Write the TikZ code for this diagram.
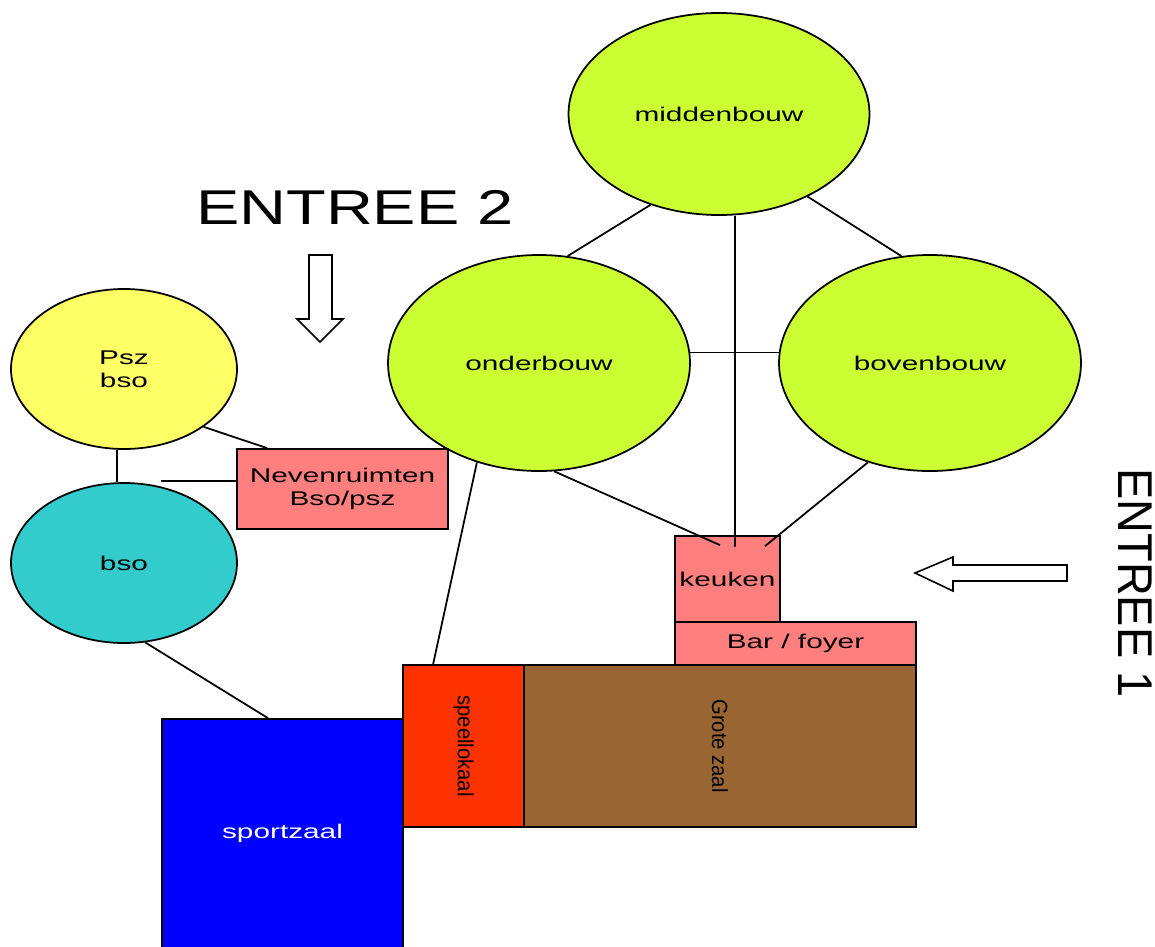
\documentclass[tikz,border=0pt]{standalone}
\usepackage{fontspec}
\setmainfont{Liberation Sans}
\usetikzlibrary{shapes.geometric,calc}
\newcommand{\px}{0.02cm}
\newcommand{\breed}[1]{\scalebox{1.5}[1]{#1}}
\definecolor{groen}{HTML}{CCFF33}
\definecolor{geel}{HTML}{FFFF66}
\definecolor{turkoois}{HTML}{33CCCC}
\definecolor{zalm}{HTML}{FF7F7F}
\definecolor{oranjerood}{HTML}{FF3300}
\definecolor{bruin}{HTML}{996633}
\definecolor{blauw}{HTML}{0000FF}

\begin{document}
\begin{tikzpicture}[x=\px, y=-\px,
    ell/.style={draw, ellipse, line width=1pt, inner sep=0pt, align=center, font=\fontsize{11.3}{13}\selectfont},
    rect/.style={draw, rectangle, line width=1pt, inner sep=0pt, align=center, font=\fontsize{11.3}{13}\selectfont},
    lijn/.style={line width=1pt},
    pijl/.style={draw, line width=0.9pt, fill=white}]
    \useasboundingbox (0,0) rectangle (1155,946);
    \clip (0,0) rectangle (1155,946);

    % Clusters
    \node[ell, fill=groen, minimum width=301*\px, minimum height=202*\px] (middenbouw) at (719,114) {\breed{middenbouw}};
    \node[ell, fill=groen, minimum width=302*\px, minimum height=216*\px] (onderbouw) at (539,363) {\breed{onderbouw}};
    \node[ell, fill=groen, minimum width=302*\px, minimum height=216*\px] (bovenbouw) at (930,363) {\breed{bovenbouw}};
    \node[ell, fill=geel, minimum width=226*\px, minimum height=160*\px] (psz) at (124,369) {\breed{Psz}\\\breed{bso}};
    \node[ell, fill=turkoois, minimum width=226*\px, minimum height=160*\px] (bso) at (124,563) {\breed{bso}};

    % Rooms
    \node[rect, fill=zalm, minimum width=211*\px, minimum height=80*\px] (nevenruimten) at (342.5,489) {\breed{Nevenruimten}\\\breed{Bso/psz}};
    \node[rect, fill=zalm, minimum width=105*\px, minimum height=86*\px] (keuken) at (727.5,579) {\breed{keuken}};
    \node[rect, fill=zalm, minimum width=241*\px, minimum height=43*\px] (bar) at (795.5,643.5) {\breed{Bar / foyer}};
    \node[rect, fill=oranjerood, minimum width=121*\px, minimum height=162*\px] (speellokaal) at (463.5,746) {\rotatebox{-90}{\fontsize{12.5}{14}\selectfont\scalebox{0.92}[1]{speellokaal}}};
    \node[rect, fill=bruin, minimum width=392*\px, minimum height=162*\px] (grotezaal) at (720,746) {\rotatebox{-90}{\fontsize{12.5}{14}\selectfont\scalebox{0.92}[1]{Grote zaal}}};
    \node[rect, fill=blauw, text=white, minimum width=241*\px, minimum height=229*\px] (sportzaal) at (282.5,833.5) {\breed{sportzaal}};

    % Entrances
    \node (entree2) at (355,207) {\fontsize{27.8}{30}\selectfont\scalebox{1.33}[1]{ENTREE 2}};
    \node[rotate=-90] (entree1) at (1135,583) {\fontsize{27.8}{30}\selectfont\scalebox{0.96}[1]{ENTREE 1}};
    \draw[pijl] (309,255) -- (332,255) -- (332,319) -- (343,319) -- (320,342) -- (297,319) -- (309,319) -- cycle;
    \draw[pijl] (1067,565) -- (953,565) -- (953,557) -- (915,573) -- (953,591) -- (953,581) -- (1067,581) -- cycle;

    % Connectors
    \coordinate (k1) at ($(keuken.north)+(-7.5,10)$);
    \coordinate (k2) at ($(keuken.north)+(7.5,12)$);
    \coordinate (k3) at ($(keuken.north)+(37.5,11)$);
    \coordinate (s1) at ($(speellokaal.north west)+(31,0)$);
    \coordinate (n1) at ($(nevenruimten.north west)+(31,0)$);
    \coordinate (n2) at ($(bso.north)+(37,-1)$);
    \coordinate (z1) at ($(sportzaal.north)+(-14.5,0)$);

    \draw[lijn] (middenbouw.233) -- (onderbouw.75);
    \draw[lijn] (middenbouw.-43) -- (bovenbouw.105);
    \draw[lijn] (k2) -- (k2 |- middenbouw.south);
    \draw[lijn] (onderbouw.4) -- (bovenbouw.176);
    \draw[lijn] (onderbouw.-82) -- (k1);
    \draw[lijn] (bovenbouw.-122) -- (k3);
    \draw[lijn] (onderbouw.238) -- (s1);
    \draw[lijn] (psz.-36) -- (n1);
    \draw[lijn] (psz.-95) -- (bso.95);
    \draw[lijn] (n2) -- (n2 -| nevenruimten.west);
    \draw[lijn] (bso.-75) -- (z1);

\end{tikzpicture}
\end{document}
